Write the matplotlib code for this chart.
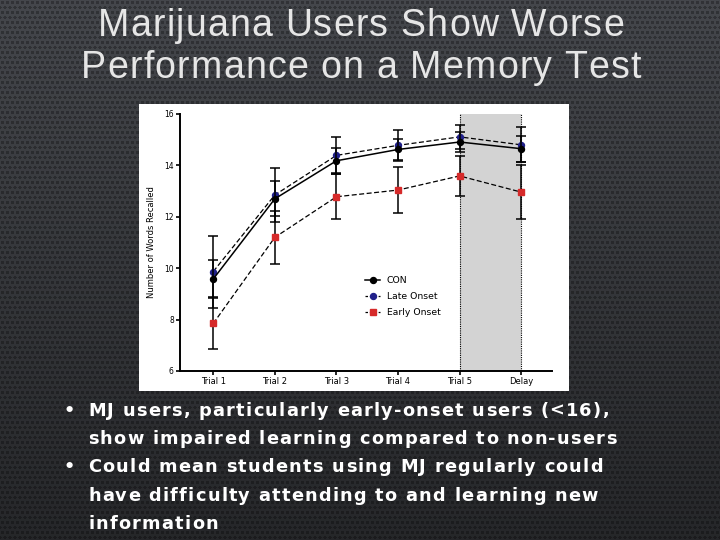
import numpy as np
import matplotlib
matplotlib.use("Agg")
import matplotlib.pyplot as plt
from matplotlib.patches import Rectangle
from matplotlib.lines import Line2D
from matplotlib.textpath import TextToPath
from matplotlib.font_manager import FontProperties

categories = ["Trial 1", "Trial 2", "Trial 3", "Trial 4", "Trial 5", "Delay"]
con_mean = [9.58, 12.70, 14.18, 14.62, 14.91, 14.65]
con_err = [0.72, 0.68, 0.48, 0.40, 0.38, 0.50]
late_mean = [9.87, 12.85, 14.39, 14.78, 15.11, 14.80]
late_err = [1.40, 1.05, 0.72, 0.60, 0.47, 0.68]
early_mean = [7.85, 11.20, 12.78, 13.04, 13.59, 12.96]
early_err = [1.00, 1.03, 0.87, 0.90, 0.77, 1.05]
yticks = [6, 8, 10, 12, 14, 16]

title_lines = ["Marijuana Users Show Worse", "Performance on a Memory Test"]
bullets = [
    ["MJ users, particularly early-onset users (<16),",
     "show impaired learning compared to non-users"],
    ["Could mean students using MJ regularly could",
     "have difficulty attending to and learning new",
     "information"],
]

W, H = 720, 540
DPI = 100
fig = plt.figure(figsize=(7.2, 5.4), dpi=DPI)
ttp = TextToPath()


def char_w(ch, prop):
    w, h, d = ttp.get_text_width_height_descent(ch, prop, ismath=False)
    return w * DPI / 72.0


def tracked_width(s, prop, track):
    return sum(char_w(c, prop) for c in s) + track * (len(s) - 1)


def draw_tracked(s, x_px, y_px, prop, track, color, align="left"):
    total = tracked_width(s, prop, track)
    if align == "center":
        x_px = x_px - total / 2.0
    cx = x_px
    for c in s:
        if c != " ":
            fig.text(cx / W, 1 - y_px / H, c, ha="left", va="baseline",
                     fontproperties=prop, color=color)
        cx += char_w(c, prop) + track


# textured background (gradient + dot pattern)
bg = fig.add_axes([0, 0, 1, 1], zorder=-10)
yy, xx = np.mgrid[0:H, 0:W]
base = np.interp(yy, [0, 270, 540], [0.265, 0.205, 0.145])
row = (yy // 5) % 2
dx = (xx + row * 2.5) % 5 - 2.0
dy = yy % 5 - 2.0
dots = (dx ** 2 + dy ** 2) < 2.3
img = base * np.where(dots, 0.75, 1.05)
rgb = np.stack([img * 0.97, img * 1.0, img * 1.07], axis=-1).clip(0, 1)
bg.imshow(rgb, aspect="auto", extent=[0, 1, 0, 1], origin="upper",
          interpolation="nearest")
bg.set_axis_off()

# white chart box
fig.patches.append(Rectangle((139 / W, 1 - 391 / H), 430 / W, 287 / H,
                             transform=fig.transFigure, facecolor="white",
                             edgecolor="none", zorder=-5))

ax = fig.add_axes([180 / W, 1 - 371 / H, (552 - 180) / W, (371 - 114) / H])
ax.set_facecolor("none")
x = np.arange(len(categories))

ax.axvspan(4, 5, color="#d3d3d3", zorder=0, lw=0)
ax.axvline(4, color="black", ls=(0, (1, 1)), lw=0.8, zorder=1)
ax.axvline(5, color="black", ls=(0, (1, 1)), lw=0.8, zorder=1)

ekw = dict(ecolor="black", elinewidth=1.1, capsize=3.6, capthick=1.1)
red, navy = "#d62a2a", "#20208a"
ax.errorbar(x, early_mean, yerr=early_err, color="black", ls=(0, (4, 2)), lw=0.9,
            marker="s", ms=4.8, mfc=red, mec=red, zorder=3, **ekw)
ax.errorbar(x, late_mean, yerr=late_err, color="black", ls=(0, (4, 2)), lw=0.9,
            marker="o", ms=4.3, mfc=navy, mec=navy, zorder=4, **ekw)
ax.errorbar(x, con_mean, yerr=con_err, color="black", ls="-", lw=1.1,
            marker="o", ms=4.3, mfc="black", mec="black", zorder=5, **ekw)

ax.set_xlim(-0.54, 5.5)
ax.set_ylim(6, 16)
ax.set_yticks(yticks)
ax.set_yticklabels([str(v) for v in yticks], fontsize=5.5)
ax.set_xticks(x)
ax.set_xticklabels(categories, fontsize=6)
ax.tick_params(axis="both", direction="out", length=3, width=1.2, pad=1.5)
for s in ["top", "right"]:
    ax.spines[s].set_visible(False)
for s in ["left", "bottom"]:
    ax.spines[s].set_linewidth(1.4)
ax.set_ylabel("Number of Words Recalled", fontsize=6, labelpad=6)

handles = [
    Line2D([], [], color="black", ls="-", lw=1.1, marker="o", ms=4.3,
           mfc="black", mec="black"),
    Line2D([], [], color="black", ls=(0, (2, 1.5)), lw=0.9, marker="o", ms=4.3,
           mfc=navy, mec=navy),
    Line2D([], [], color="black", ls=(0, (2, 1.5)), lw=0.9, marker="s", ms=4.8,
           mfc=red, mec=red),
]
labels = ["CON", "Late Onset", "Early Onset"]
ax.legend(handles, labels, loc="upper left",
          bbox_to_anchor=((357 - 180) / 372, (371 - 268) / 257),
          frameon=False, fontsize=6.7, handlelength=1.6, labelspacing=0.75,
          handletextpad=0.7)

# title
tprop = FontProperties(family="Liberation Sans", size=27)
for i, line in enumerate(title_lines):
    draw_tracked(line, 361, 36 + 42 * i, tprop, 1.2, "#e6e6e6", align="center")

# bullets
bprop = FontProperties(family="DejaVu Sans", weight="bold", size=12.8)
nat = tracked_width(bullets[0][0], bprop, 0.0)
track = (521 - nat) / (len(bullets[0][0]) - 1)
baselines = [415.5, 443.9, 472.3, 500.7, 529]
k = 0
for b in bullets:
    for j, line in enumerate(b):
        if j == 0:
            fig.text(63 / W, 1 - baselines[k] / H, "\u2022", ha="left",
                     va="baseline", fontproperties=bprop, color="white")
        draw_tracked(line, 88, baselines[k], bprop, track, "white")
        k += 1

fig.savefig("out.png", dpi=DPI)
